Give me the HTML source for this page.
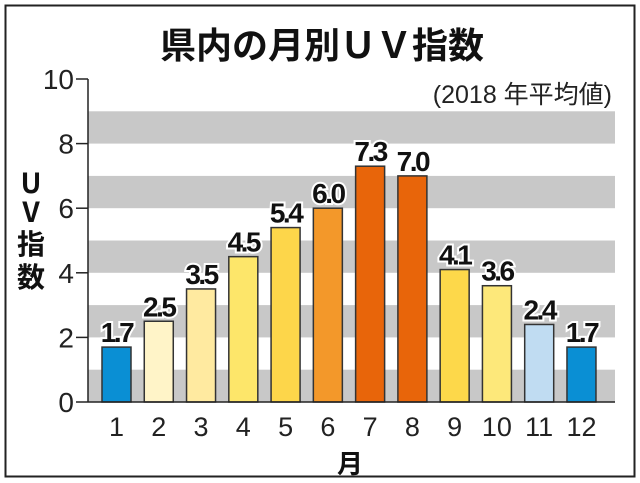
<!DOCTYPE html>
<html><head><meta charset="utf-8">
<style>
html,body{margin:0;padding:0;background:#fff;}
svg{display:block;font-family:"Liberation Sans","Noto Sans CJK JP",sans-serif;}
</style></head>
<body>
<svg id="chart" width="640" height="483" viewBox="0 0 640 483">
<rect x="5.5" y="5.5" width="629" height="471" fill="#fff" stroke="#222" stroke-width="2"/>
<text x="322" y="58" text-anchor="middle" font-size="36" font-weight="bold" fill="#111" font-family="'Liberation Sans','Noto Sans CJK JP',sans-serif">県内の月別ＵＶ指数</text>
<text x="612" y="103" text-anchor="end" font-size="25" fill="#222">(2018 年平均値)</text>
<g id="bands"></g>
<g id="bars"></g>
<g id="axes"></g>
<text font-size="28" font-weight="bold" fill="#111" font-family="'Noto Sans CJK JP',sans-serif" text-anchor="middle">
<tspan x="31" y="193">U</tspan><tspan x="31" y="222">V</tspan><tspan x="31" y="254">指</tspan><tspan x="31" y="287">数</tspan></text>
<text x="350" y="473" text-anchor="middle" font-size="26" font-weight="bold" fill="#111" font-family="'Noto Sans CJK JP',sans-serif">月</text>
</svg>
<script>
const months = ["1","2","3","4","5","6","7","8","9","10","11","12"];
const values = [1.7,2.5,3.5,4.5,5.4,6.0,7.3,7.0,4.1,3.6,2.4,1.7];
const valueLabels = ["1.7","2.5","3.5","4.5","5.4","6.0","7.3","7.0","4.1","3.6","2.4","1.7"];
const barColors = ["#0a8fd4","#fff4c8","#ffeaa0","#fde66a","#fdd64a","#f3982a","#e8650a","#e8650a","#fdd84a","#fde87a","#c0dcf2","#0a8fd4"];
const yTicks = [0,2,4,6,8,10];
const bandStarts = [0,2,4,6,8];
const NS="http://www.w3.org/2000/svg";
const plotL=88, plotR=615, y0=402, y10=79;
const yScale=v=>y0-(v/10)*(y0-y10);
const firstX=102, pitch=42.27, bw=29;
const xScale=i=>firstX+i*pitch;
function mk(t,a){const e=document.createElementNS(NS,t);for(const k in a)e.setAttribute(k,a[k]);return e;}
const bands=document.getElementById('bands');
bandStarts.forEach(b=>{
  const r=mk('rect',{x:plotL,y:yScale(b+1),width:plotR-plotL,height:yScale(b)-yScale(b+1),fill:'#c8c8c8'});
  
  
  bands.appendChild(r);
});
const bars=document.getElementById('bars');
values.forEach((v,i)=>{
  const r=mk('rect',{x:xScale(i),y:yScale(v),width:bw,height:y0-yScale(v),fill:barColors[i],stroke:'#333','stroke-width':1.5});
  
  
  bars.appendChild(r);
  const t=mk('text',{x:xScale(i)+bw/2,y:yScale(v)-5,'text-anchor':'middle','font-size':28,'font-weight':'bold',fill:'#111',stroke:'#fff','stroke-width':4,'paint-order':'stroke','letter-spacing':'-2.5'});
  t.textContent=valueLabels[i];
  
  
  bars.appendChild(t);
  const xl=mk('text',{x:xScale(i)+bw/2,y:436,'text-anchor':'middle','font-size':27,fill:'#222'});
  xl.textContent=months[i];
  
  
  bars.appendChild(xl);
});
const axes=document.getElementById('axes');
axes.appendChild(mk('line',{x1:plotL,y1:y10,x2:plotL,y2:y0,stroke:'#222','stroke-width':1.5}));
axes.appendChild(mk('line',{x1:plotL,y1:y0,x2:plotR,y2:y0,stroke:'#222','stroke-width':1.5}));
yTicks.forEach(v=>{
  const l=mk('line',{x1:plotL-12,y1:yScale(v),x2:plotL,y2:yScale(v),stroke:'#222','stroke-width':1.5});
  
  
  axes.appendChild(l);
  const t=mk('text',{x:plotL-14,y:yScale(v)+10,'text-anchor':'end','font-size':28,fill:'#222'});
  t.textContent=String(v);
  
  
  axes.appendChild(t);
});
</script>
</body></html>
